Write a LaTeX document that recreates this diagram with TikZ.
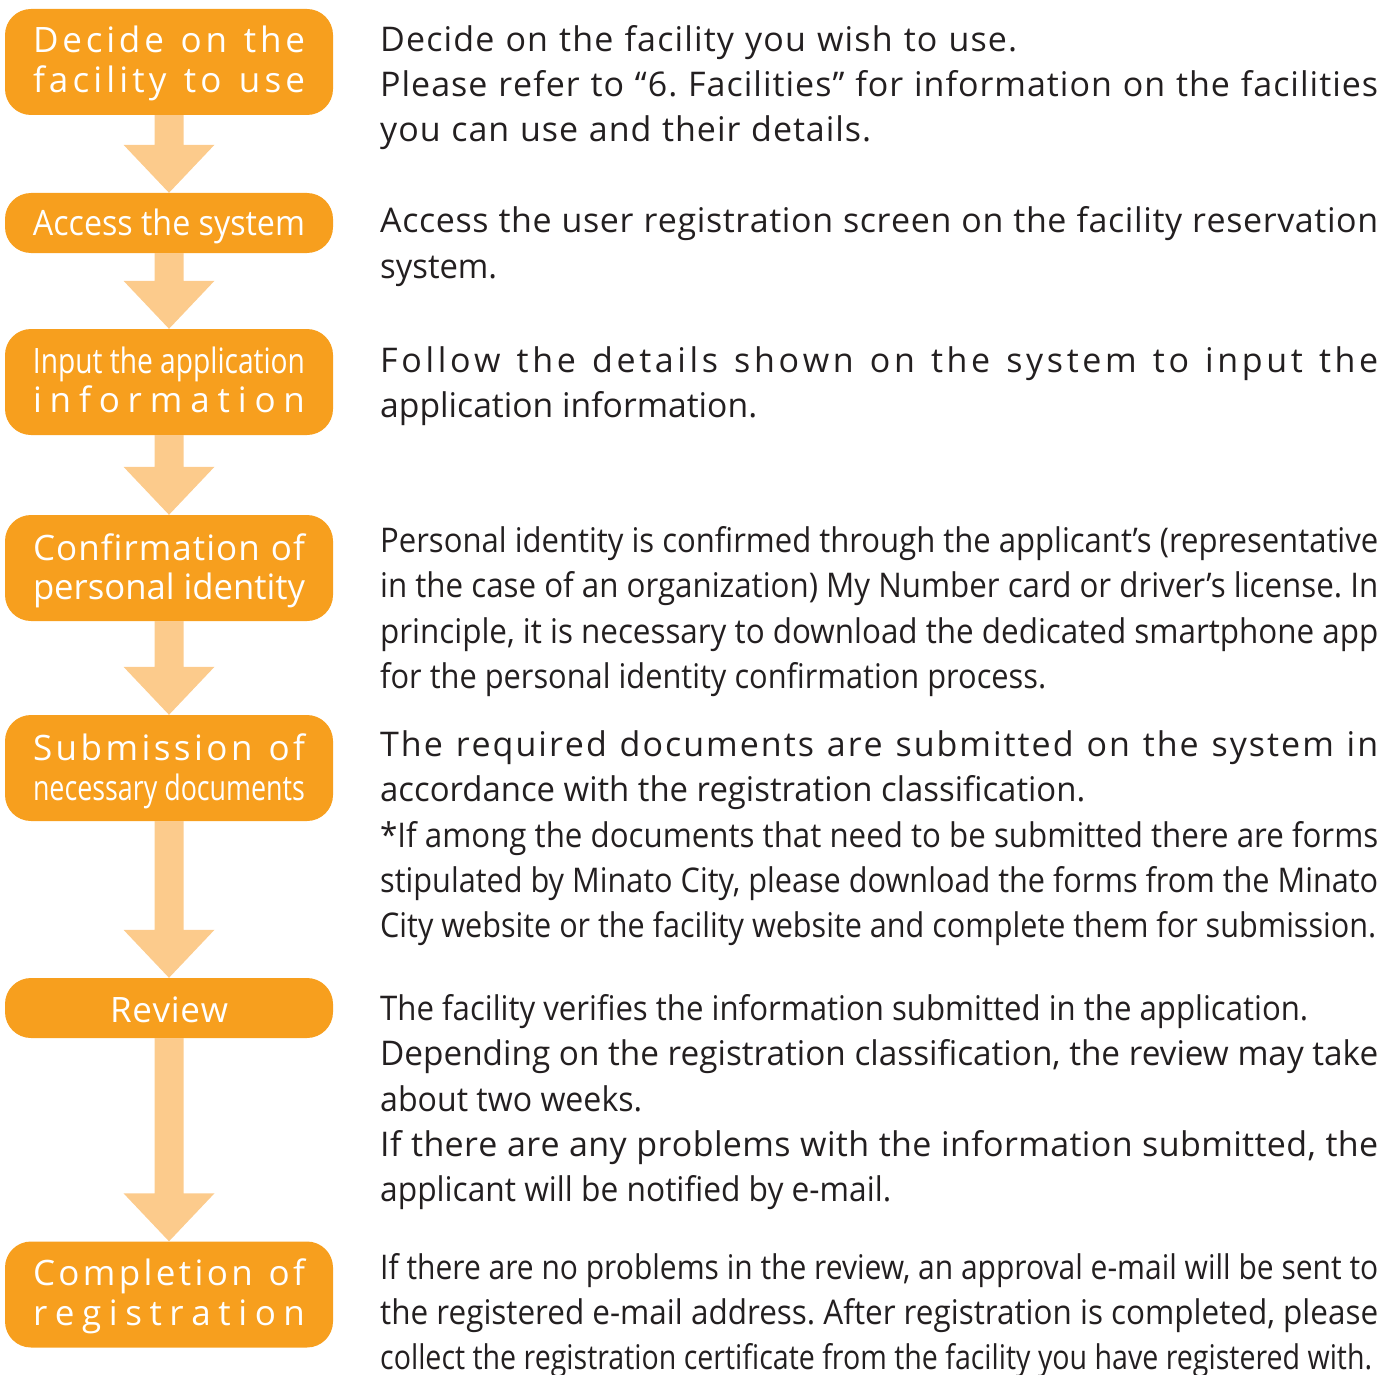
\documentclass[tikz,border=0pt]{standalone}
\usepackage{fontspec}
\setmainfont{Open Sans}
\usepackage{graphicx}
\usetikzlibrary{calc}

\definecolor{steporange}{RGB}{247,159,30}
\definecolor{flowpale}{RGB}{252,203,140}
\definecolor{bodyink}{RGB}{35,31,32}

% Letter spacing through XeTeX inter-character glue
\makeatletter
\newXeTeXintercharclass\lsclass
\@tempcnta=33
\loop
  \XeTeXcharclass\@tempcnta=\lsclass
  \advance\@tempcnta by 1
\ifnum\@tempcnta<127 \repeat
\XeTeXcharclass"2019=\lsclass
\XeTeXcharclass"201C=\lsclass
\XeTeXcharclass"201D=\lsclass
\XeTeXinterchartoks\lsclass\lsclass={\hskip\z@ plus 1fil\relax}
\makeatother

% Set a line to an exact width: condense glyphs if too long, spread letters if too short
\newsavebox\fitbox
\newcommand\spreadline[2]{{\XeTeXinterchartokenstate=1
  \spaceskip=\fontdimen2\font plus 2fil\relax
  \hbox to #1{#2}}}
\newcommand\fitline[2]{\sbox\fitbox{#2}%
  \ifdim\wd\fitbox>#1\relax
    \resizebox{#1}{\height}{\usebox\fitbox}%
  \else
    \spreadline{#1}{#2}%
  \fi}

\tikzset{
  stepbox/.style={rectangle, rounded corners=26pt, fill=steporange, draw=none,
    minimum width=328pt, inner sep=0pt},
  boxlabel/.style={anchor=base, inner sep=0pt, text=white,
    font=\fontsize{35}{40}\selectfont},
  desc/.style={anchor=base west, inner sep=0pt, text=bodyink,
    font=\fontsize{34}{45}\selectfont},
}

% Block arrow from the bottom of one step to the top of the next
\newcommand\flowarrow[2]{%
  \fill[flowpale] ($(#1.south)+(-14.5,0)$) -- ($(#2.north)+(-14.5,-48)$)
    -- ($(#2.north)+(-45.5,-48)$) -- (#2.north) -- ($(#2.north)+(45.5,-48)$)
    -- ($(#2.north)+(14.5,-48)$) -- ($(#1.south)+(14.5,0)$) -- cycle;}

\begin{document}
\frenchspacing
\begin{tikzpicture}[x=1pt, y=-1pt]
\useasboundingbox (0,0) rectangle (1397,1375);

% Steps
\node[stepbox, minimum height=106pt] (b1) at (169,62) {};
\node[stepbox, minimum height=60pt]  (b2) at (169,223) {};
\node[stepbox, minimum height=106pt] (b3) at (169,382) {};
\node[stepbox, minimum height=106pt] (b4) at (169,568) {};
\node[stepbox, minimum height=106pt] (b5) at (169,768) {};
\node[stepbox, minimum height=60pt]  (b6) at (169,1008) {};
\node[stepbox, minimum height=106pt] (b7) at (169,1294.5) {};

\flowarrow{b1}{b2}
\flowarrow{b2}{b3}
\flowarrow{b3}{b4}
\flowarrow{b4}{b5}
\flowarrow{b5}{b6}
\flowarrow{b6}{b7}

% Step titles
\node[boxlabel] (b1a) at (169,53)  {\fitline{272pt}{Decide on the}};
\node[boxlabel] (b1b) at (169,93)  {\fitline{272pt}{facility to use}};
\node[boxlabel] (b2a) at (169,236) {\fitline{272pt}{Access the system}};
\node[boxlabel] (b3a) at (169,373) {\fitline{272pt}{Input the application}};
\node[boxlabel] (b3b) at (169,412) {\fitline{272pt}{information}};
\node[boxlabel] (b4a) at (169,560) {\fitline{272pt}{Confirmation of}};
\node[boxlabel] (b4b) at (169,599) {\fitline{272pt}{personal identity}};
\node[boxlabel] (b5a) at (169,760) {\fitline{272pt}{Submission of}};
\node[boxlabel] (b5b) at (169,800) {\fitline{272pt}{necessary documents}};
\node[boxlabel] (b6a) at (169,1022) {\fitline{118pt}{Review}};
\node[boxlabel] (b7a) at (169,1285) {\fitline{272pt}{Completion of}};
\node[boxlabel] (b7b) at (169,1325) {\fitline{272pt}{registration}};

% Descriptions
\node[desc] (d1a) at (380,52)  {\fitline{637pt}{Decide on the facility you wish to use.}};
\node[desc] (d1b) at (380,97)  {\fitline{998pt}{Please refer to “6. Facilities” for information on the facilities}};
\node[desc] (d1c) at (380,142) {\fitline{491pt}{you can use and their details.}};

\node[desc] (d2a) at (380,233) {\fitline{998pt}{Access the user registration screen on the facility reservation}};
\node[desc] (d2b) at (380,278) {\fitline{117pt}{system.}};

\node[desc] (d3a) at (380,372) {\fitline{998pt}{Follow the details shown on the system to input the}};
\node[desc] (d3b) at (380,417) {\fitline{377pt}{application information.}};

\node[desc] (d4a) at (380,552) {\fitline{998pt}{Personal identity is confirmed through the applicant’s (representative}};
\node[desc] (d4b) at (380,597) {\fitline{998pt}{in the case of an organization) My Number card or driver’s license. In}};
\node[desc] (d4c) at (380,643) {\fitline{998pt}{principle, it is necessary to download the dedicated smartphone app}};
\node[desc] (d4d) at (380,688) {\fitline{666pt}{for the personal identity confirmation process.}};

\node[desc] (d5a) at (380,756) {\fitline{998pt}{The required documents are submitted on the system in}};
\node[desc] (d5b) at (380,801) {\fitline{705pt}{accordance with the registration classification.}};
\node[desc] (d5c) at (380,847) {\fitline{998pt}{*If among the documents that need to be submitted there are forms}};
\node[desc] (d5d) at (380,892) {\fitline{998pt}{stipulated by Minato City, please download the forms from the Minato}};
\node[desc] (d5e) at (380,937) {\fitline{996pt}{City website or the facility website and complete them for submission.}};

\node[desc] (d6a) at (380,1020) {\fitline{928pt}{The facility verifies the information submitted in the application.}};
\node[desc] (d6b) at (380,1065) {\fitline{998pt}{Depending on the registration classification, the review may take}};
\node[desc] (d6c) at (380,1111) {\fitline{262pt}{about two weeks.}};
\node[desc] (d6d) at (380,1156) {\fitline{998pt}{If there are any problems with the information submitted, the}};
\node[desc] (d6e) at (380,1201) {\fitline{511pt}{applicant will be notified by e-mail.}};

\node[desc] (d7a) at (380,1279) {\fitline{998pt}{If there are no problems in the review, an approval e-mail will be sent to}};
\node[desc] (d7b) at (380,1324) {\fitline{998pt}{the registered e-mail address. After registration is completed, please}};
\node[desc] (d7c) at (380,1369) {\fitline{992pt}{collect the registration certificate from the facility you have registered with.}};
\end{tikzpicture}
\end{document}
